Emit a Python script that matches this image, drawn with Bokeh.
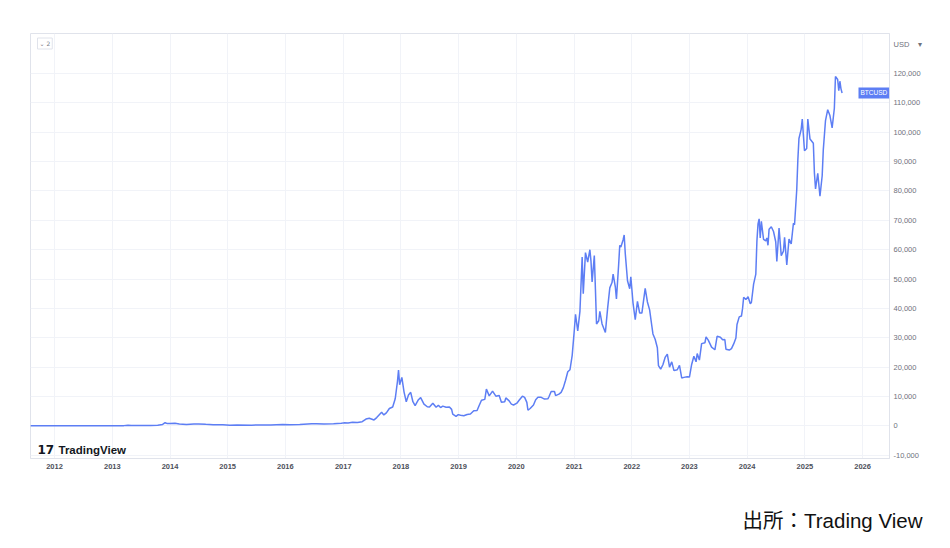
import pandas as pd
from bokeh.plotting import figure
from bokeh.models import (FixedTicker, DatetimeTickFormatter, NumeralTickFormatter,
                          Label, Range1d, ColumnDataSource, Title)
from bokeh.embed import file_html
from bokeh.resources import INLINE

# ---- data (BTCUSD) ----
dates = [
    "2011-08-01", "2011-10-01", "2012-01-01", "2012-04-01", "2012-07-01", "2012-10-01",
    "2013-01-01", "2013-03-15", "2013-04-10", "2013-05-01", "2013-07-01", "2013-09-01",
    "2013-10-15", "2013-11-15", "2013-12-01", "2013-12-15", "2014-01-01", "2014-02-01",
    "2014-03-01", "2014-04-15", "2014-06-01", "2014-07-01", "2014-08-15", "2014-10-01",
    "2014-12-01", "2015-01-15", "2015-03-01", "2015-06-01", "2015-08-01", "2015-10-01",
    "2015-11-05", "2015-12-15", "2016-02-01", "2016-04-01", "2016-06-15", "2016-07-15",
    "2016-09-01", "2016-11-01", "2016-12-20", "2017-01-05", "2017-02-01", "2017-03-01",
    "2017-04-01", "2017-05-01", "2017-05-25", "2017-06-15", "2017-07-15", "2017-08-01",
    "2017-09-01", "2017-09-15", "2017-10-01", "2017-10-20", "2017-11-10", "2017-11-26",
    "2017-12-10", "2017-12-17", "2017-12-24", "2018-01-07", "2018-01-21", "2018-02-04",
    "2018-02-18", "2018-03-04", "2018-03-18", "2018-04-01", "2018-04-22", "2018-05-06",
    "2018-05-27", "2018-06-17", "2018-07-01", "2018-07-22", "2018-08-12", "2018-08-26",
    "2018-09-09", "2018-09-23", "2018-10-14", "2018-11-04", "2018-11-18", "2018-11-25",
    "2018-12-16", "2018-12-30", "2019-01-13", "2019-02-03", "2019-02-24", "2019-03-17",
    "2019-04-07", "2019-04-28", "2019-05-12", "2019-05-26", "2019-06-16", "2019-06-26",
    "2019-07-14", "2019-08-04", "2019-08-25", "2019-09-15", "2019-09-29", "2019-10-20",
    "2019-10-27", "2019-11-17", "2019-12-01", "2019-12-15", "2020-01-05", "2020-01-19",
    "2020-02-09", "2020-02-23", "2020-03-08", "2020-03-15", "2020-03-29", "2020-04-19",
    "2020-05-03", "2020-05-17", "2020-06-07", "2020-06-28", "2020-07-19", "2020-07-26",
    "2020-08-09", "2020-08-30", "2020-09-06", "2020-09-27", "2020-10-11", "2020-10-25",
    "2020-11-08", "2020-11-22", "2020-12-06", "2020-12-20", "2021-01-03", "2021-01-10",
    "2021-01-24", "2021-02-07", "2021-02-21", "2021-02-28", "2021-03-14", "2021-03-28",
    "2021-04-11", "2021-04-18", "2021-04-25", "2021-05-09", "2021-05-16", "2021-05-23",
    "2021-06-06", "2021-06-13", "2021-06-27", "2021-07-18", "2021-08-01", "2021-08-15",
    "2021-08-29", "2021-09-05", "2021-09-19", "2021-09-26", "2021-10-10", "2021-10-17",
    "2021-10-24", "2021-11-07", "2021-11-14", "2021-11-21", "2021-12-05", "2021-12-19",
    "2021-12-26", "2022-01-09", "2022-01-23", "2022-02-06", "2022-02-20", "2022-03-06",
    "2022-03-27", "2022-04-10", "2022-04-24", "2022-05-08", "2022-05-15", "2022-05-29",
    "2022-06-12", "2022-06-19", "2022-07-03", "2022-07-17", "2022-07-31", "2022-08-14",
    "2022-08-28", "2022-09-11", "2022-09-25", "2022-10-16", "2022-10-30", "2022-11-13",
    "2022-11-27", "2022-12-18", "2023-01-01", "2023-01-15", "2023-01-29", "2023-02-12",
    "2023-02-19", "2023-03-05", "2023-03-19", "2023-04-09", "2023-04-16", "2023-04-30",
    "2023-05-21", "2023-06-11", "2023-06-25", "2023-07-16", "2023-07-30", "2023-08-13",
    "2023-08-20", "2023-09-10", "2023-09-24", "2023-10-08", "2023-10-22", "2023-10-29",
    "2023-11-12", "2023-11-26", "2023-12-03", "2023-12-10", "2023-12-24", "2024-01-07",
    "2024-01-21", "2024-01-28", "2024-02-11", "2024-02-25", "2024-03-03", "2024-03-10",
    "2024-03-17", "2024-03-24", "2024-03-31", "2024-04-14", "2024-04-28", "2024-05-05",
    "2024-05-12", "2024-05-19", "2024-06-02", "2024-06-16", "2024-06-30", "2024-07-07",
    "2024-07-21", "2024-08-04", "2024-08-18", "2024-08-25", "2024-09-08", "2024-09-22",
    "2024-10-06", "2024-10-20", "2024-10-27", "2024-11-10", "2024-11-17", "2024-11-24",
    "2024-12-08", "2024-12-15", "2024-12-29", "2025-01-12", "2025-01-19", "2025-02-02",
    "2025-02-23", "2025-03-02", "2025-03-09", "2025-03-23", "2025-04-06", "2025-04-20",
    "2025-04-27", "2025-05-11", "2025-05-25", "2025-06-08", "2025-06-22", "2025-07-06",
    "2025-07-13", "2025-07-27", "2025-08-03", "2025-08-10", "2025-08-17", "2025-08-24",
]
prices = [
    10, 4, 6, 5, 8, 12,
    14, 60, 180, 120, 90, 130,
    180, 450, 1050, 750, 800, 850,
    600, 450, 630, 620, 500, 380,
    370, 220, 260, 230, 280, 240,
    400, 440, 380, 420, 700, 660,
    580, 700, 880, 1000, 980, 1200,
    1100, 1400, 2300, 2600, 2000, 2800,
    4600, 3700, 4400, 5900, 6400, 9200,
    15000, 19000, 14000, 16500, 11500, 8200,
    10500, 11400, 8200, 6900, 8900, 9600,
    7400, 6500, 6400, 7700, 6300, 7000,
    6200, 6700, 6300, 6400, 5600, 4000,
    3200, 3800, 3600, 3450, 3850, 4000,
    5100, 5200, 7000, 8700, 9000, 12500,
    10200, 11800, 10100, 10300, 8000, 8200,
    9500, 8500, 7400, 7100, 7700, 8700,
    10100, 9700, 8000, 5300, 5900, 7100,
    8900, 9700, 9700, 9100, 9200, 9900,
    11700, 11700, 10300, 10800, 11400, 13000,
    15500, 18400, 19100, 24000, 33000, 38000,
    32300, 39000, 57500, 45000, 59000, 55800,
    60000, 56000, 49000, 58000, 46500, 34700,
    35800, 39000, 34700, 31800, 39900, 47000,
    48800, 51700, 47300, 43200, 54900, 61500,
    60900, 63300, 65000, 58600, 49400, 46700,
    50800, 41800, 36200, 42400, 38400, 38400,
    46800, 42200, 39500, 34000, 31300, 29500,
    26600, 20500, 19300, 20800, 23300, 24400,
    20000, 21800, 18800, 19100, 20600, 16300,
    16500, 16700, 16600, 20900, 23700, 21800,
    24600, 22400, 28000, 28300, 30300, 29200,
    26800, 25900, 30500, 30200, 29300, 29400,
    26100, 25800, 26300, 27900, 29900, 34500,
    37100, 37400, 39900, 43800, 43000, 44000,
    41600, 42000, 48300, 51700, 63000, 68800,
    70500, 64000, 69700, 63500, 63000, 64000,
    61500, 67000, 67800, 66200, 62700, 56000,
    67400, 58000, 59500, 64200, 54800, 63600,
    62000, 69000, 68500, 80400, 90600, 97900,
    101000, 104500, 93700, 94500, 104500, 97700,
    96300, 86000, 80700, 86000, 78200, 85200,
    94000, 104000, 107700, 105700, 101500, 108200,
    119000, 118000, 114200, 117400, 114800, 113400,
]
years = list(range(2012, 2027))
price_ticks = list(range(-10000, 130000, 10000))
currency_tick = 130000
symbol = "BTCUSD"
currency = "USD\u00a0\u00a0\u00a0\u00a0▾"
brand = "TradingView"
caption = "出所：Trading View"

x = pd.to_datetime(dates)
src = ColumnDataSource(dict(x=x, y=prices))
year_ticks = [pd.Timestamp(f"{y}-01-01").value // 10**6 for y in years]

LINE = "#5D7EF4"
BORDER = "#e0e3eb"
GRID = "#f1f3f8"
LATIN = "Liberation Sans"

p = figure(width=942, height=546, x_axis_type="datetime", y_axis_location="right",
           output_backend="svg", toolbar_location=None,
           x_range=Range1d(pd.Timestamp("2011-08-02"), pd.Timestamp("2026-06-20")),
           y_range=Range1d(-11140, 133660),
           min_border_left=30, min_border_top=33, min_border_right=53, min_border_bottom=88)

p.background_fill_color = "white"
p.border_fill_color = "white"
p.outline_line_color = BORDER
p.outline_line_width = 1

p.line("x", "y", source=src, line_color=LINE, line_width=1.5)

# axes
p.yaxis.ticker = FixedTicker(ticks=price_ticks + [currency_tick])
p.yaxis.formatter = NumeralTickFormatter(format="0,0")
p.yaxis.major_label_overrides = {currency_tick: currency}
p.yaxis.axis_line_color = BORDER
p.yaxis.major_tick_line_color = None
p.yaxis.minor_tick_line_color = None
p.yaxis.major_tick_out = 0
p.yaxis.major_tick_in = 0
p.yaxis.minor_tick_out = 0
p.yaxis.major_label_standoff = 4
p.yaxis.major_label_text_font = LATIN
p.yaxis.major_label_text_font_size = "7.5px"
p.yaxis.major_label_text_color = "#6f727c"

p.xaxis.ticker = FixedTicker(ticks=year_ticks)
p.xaxis.formatter = DatetimeTickFormatter(years="%Y", months="%Y", days="%Y")
p.xaxis.axis_line_color = BORDER
p.xaxis.major_tick_line_color = None
p.xaxis.minor_tick_line_color = None
p.xaxis.major_tick_out = 0
p.xaxis.major_tick_in = 0
p.xaxis.minor_tick_out = 0
p.xaxis.major_label_standoff = 5
p.xaxis.major_label_text_font = LATIN
p.xaxis.major_label_text_font_style = "bold"
p.xaxis.major_label_text_font_size = "7.5px"
p.xaxis.major_label_text_color = "#4d505a"

p.xgrid.ticker = FixedTicker(ticks=year_ticks)
p.ygrid.ticker = FixedTicker(ticks=price_ticks)
p.xgrid.grid_line_color = GRID
p.ygrid.grid_line_color = GRID

# decorations inside the frame (screen units are relative to the plot frame)
p.add_layout(Label(x=828, y=prices[-1], x_units="screen", y_units="data", text=symbol,
                   text_font=LATIN, text_font_size="6.5px", text_color="white",
                   text_baseline="middle", text_align="left",
                   background_fill_color=LINE, padding=2))
p.add_layout(Label(x=7, y=415, x_units="screen", y_units="screen", text="⌄ 2",
                   text_font="DejaVu Sans", text_font_size="6px", text_color="#787b86",
                   text_baseline="middle", background_fill_color="white",
                   border_line_color=BORDER, padding=2))
p.add_layout(Label(x=7, y=9, x_units="screen", y_units="screen", text="17",
                   text_font="DejaVu Sans", text_font_style="bold", text_font_size="12px",
                   text_color="#131722", text_baseline="middle"))
p.add_layout(Label(x=28, y=9, x_units="screen", y_units="screen", text=brand,
                   text_font=LATIN, text_font_style="bold", text_font_size="11.5px",
                   text_color="#131722", text_baseline="middle"))

# source caption under the chart
p.add_layout(Title(text="\n" + caption, align="right", offset=-33, standoff=24,
                   text_font="Liberation Sans, Noto Sans CJK JP", text_font_size="20.5px",
                   text_font_style="normal", text_color="#111111"), "below")

open("out.html", "w").write(file_html(p, INLINE))
